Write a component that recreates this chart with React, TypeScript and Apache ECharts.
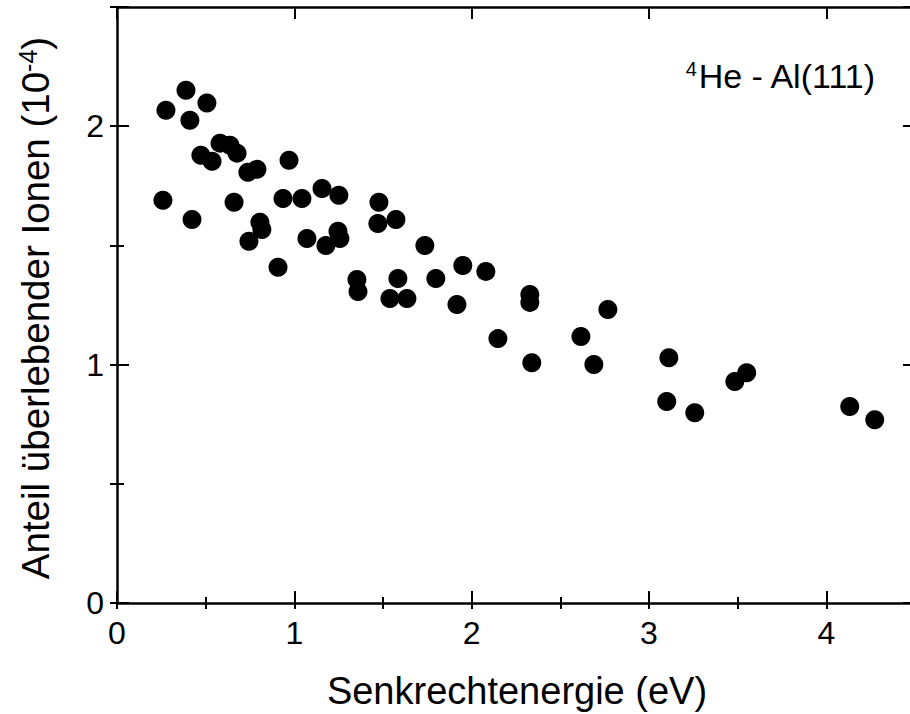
import React, { useEffect, useRef } from "react";
import * as echarts from "echarts";

const energy = [
  0.259, 0.276, 0.389, 0.411, 0.423, 0.507, 0.473, 0.536, 0.581, 0.637,
  0.677, 0.66, 0.738, 0.789, 0.806, 0.817, 0.744, 0.908, 0.936, 0.97,
  1.043, 1.071, 1.156, 1.178, 1.251, 1.246, 1.257, 1.353, 1.359, 1.477,
  1.471, 1.573, 1.539, 1.584, 1.635, 1.736, 1.798, 1.917, 1.95, 2.08,
  2.148, 2.328, 2.328, 2.339, 2.616, 2.689, 2.768, 3.112, 3.1, 3.258,
  3.484, 3.551, 4.132, 4.273,
];
const fraction = [
  1.689, 2.067, 2.151, 2.025, 1.609, 2.097, 1.878, 1.853, 1.929, 1.92,
  1.887, 1.681, 1.807, 1.819, 1.597, 1.567, 1.517, 1.408, 1.697, 1.857,
  1.697, 1.529, 1.739, 1.5, 1.71, 1.559, 1.529, 1.357, 1.307, 1.681,
  1.592, 1.609, 1.277, 1.361, 1.277, 1.5, 1.361, 1.252, 1.416, 1.391,
  1.109, 1.294, 1.261, 1.008, 1.118, 1.0, 1.231, 1.029, 0.845, 0.798,
  0.929, 0.966, 0.824, 0.769,
];
const xTickLabels = ["0", "1", "2", "3", "4"];
const yTickLabels = ["0", "1", "2"];
const xTitle = "Senkrechtenergie (eV)";
const yTitleMain = "Anteil überlebender Ionen (10";
const yTitleSup = "-4";
const annotationSup = "4";
const annotationMain = "He - Al(111)";

const FONT = "'Liberation Sans', Arial, sans-serif";

export default function App() {
  const ref = useRef<HTMLDivElement>(null);
  useEffect(() => {
    if (!ref.current) return;
    const chart = echarts.init(ref.current, null, { renderer: "svg" });
    const points = energy.map((e, i) => [e, fraction[i]]);
    const line = { show: true, onZero: false, lineStyle: { color: "#000", width: 2.5 } };
    const noLine = { show: false };
    const xFmt = (v: number) => (xTickLabels.includes(String(v)) ? String(v) : "");
    const yFmt = (v: number) => (yTickLabels.includes(String(v)) ? String(v) : "");
    const baseX = { type: "value", min: 0, max: 4.5, gridIndex: 0, splitLine: { show: false } };
    const baseY = { type: "value", min: 0, max: 2.5, gridIndex: 0, splitLine: { show: false } };
    const tickStyle = { color: "#000", width: 2 };
    chart.setOption({
      animation: false,
      backgroundColor: "#fff",
      grid: { left: 117, top: 7, width: 798, height: 596 },
      xAxis: [
        {
          ...baseX, position: "bottom", interval: 1, axisLine: line,
          axisTick: { show: true, inside: true, length: 12, lineStyle: tickStyle },
          axisLabel: { show: true, formatter: xFmt, margin: 14, color: "#000", fontSize: 32, fontFamily: FONT },
        },
        {
          ...baseX, position: "bottom", interval: 0.5, axisLine: noLine,
          axisTick: { show: true, inside: true, length: 6, lineStyle: tickStyle },
          axisLabel: { show: false },
        },
        {
          ...baseX, position: "top", interval: 1, axisLine: line,
          axisTick: { show: true, inside: true, length: 12, lineStyle: tickStyle },
          axisLabel: { show: false },
        },
        {
          ...baseX, position: "top", interval: 0.5, axisLine: noLine,
          axisTick: { show: true, inside: true, length: 6, lineStyle: tickStyle },
          axisLabel: { show: false },
        },
      ],
      yAxis: [
        {
          ...baseY, position: "left", interval: 1, axisLine: line,
          axisTick: { show: true, inside: true, length: 12, lineStyle: tickStyle },
          axisLabel: { show: true, formatter: yFmt, margin: 13, color: "#000", fontSize: 32, fontFamily: FONT },
        },
        {
          ...baseY, position: "left", interval: 0.5, axisLine: noLine,
          axisTick: { show: true, inside: true, length: 7, lineStyle: tickStyle },
          axisLabel: { show: false },
        },
        {
          ...baseY, position: "right", interval: 1, axisLine: line,
          axisTick: { show: true, inside: true, length: 12, lineStyle: tickStyle },
          axisLabel: { show: false },
        },
        {
          ...baseY, position: "right", interval: 0.5, axisLine: noLine,
          axisTick: { show: true, inside: true, length: 7, lineStyle: tickStyle },
          axisLabel: { show: false },
        },
      ],
      series: [
        {
          type: "scatter",
          xAxisIndex: 0,
          yAxisIndex: 0,
          data: points,
          symbol: "circle",
          symbolSize: 19,
          itemStyle: { color: "#000", opacity: 1 },
        },
      ],
      graphic: [
        {
          type: "text",
          x: 517,
          y: 691,
          style: {
            text: xTitle,
            align: "center",
            verticalAlign: "middle",
            fill: "#000",
            fontSize: 38,
            fontFamily: FONT,
          },
        },
        {
          type: "text",
          x: 35,
          y: 308,
          rotation: Math.PI / 2,
          style: {
            text: `{a|${yTitleMain}}{s|${yTitleSup}}{a|)}`,
            align: "center",
            verticalAlign: "middle",
            fill: "#000",
            rich: {
              a: { fontSize: 38.5, fontFamily: FONT, fill: "#000", verticalAlign: "bottom" },
              s: { fontSize: 25, fontFamily: FONT, fill: "#000", verticalAlign: "top" },
            },
          },
        },
        {
          type: "text",
          x: 875,
          y: 76,
          style: {
            text: `{s|${annotationSup}}{a|${annotationMain}}`,
            align: "right",
            verticalAlign: "middle",
            fill: "#000",
            rich: {
              a: { fontSize: 34, fontFamily: FONT, fill: "#000", verticalAlign: "bottom" },
              s: { fontSize: 20, fontFamily: FONT, fill: "#000", verticalAlign: "top" },
            },
          },
        },
      ],
    });
    return () => chart.dispose();
  }, []);
  return (
    <div
      ref={ref}
      style={{ position: "fixed", left: 0, top: 0, width: 920, height: 714 }}
    />
  );
}
